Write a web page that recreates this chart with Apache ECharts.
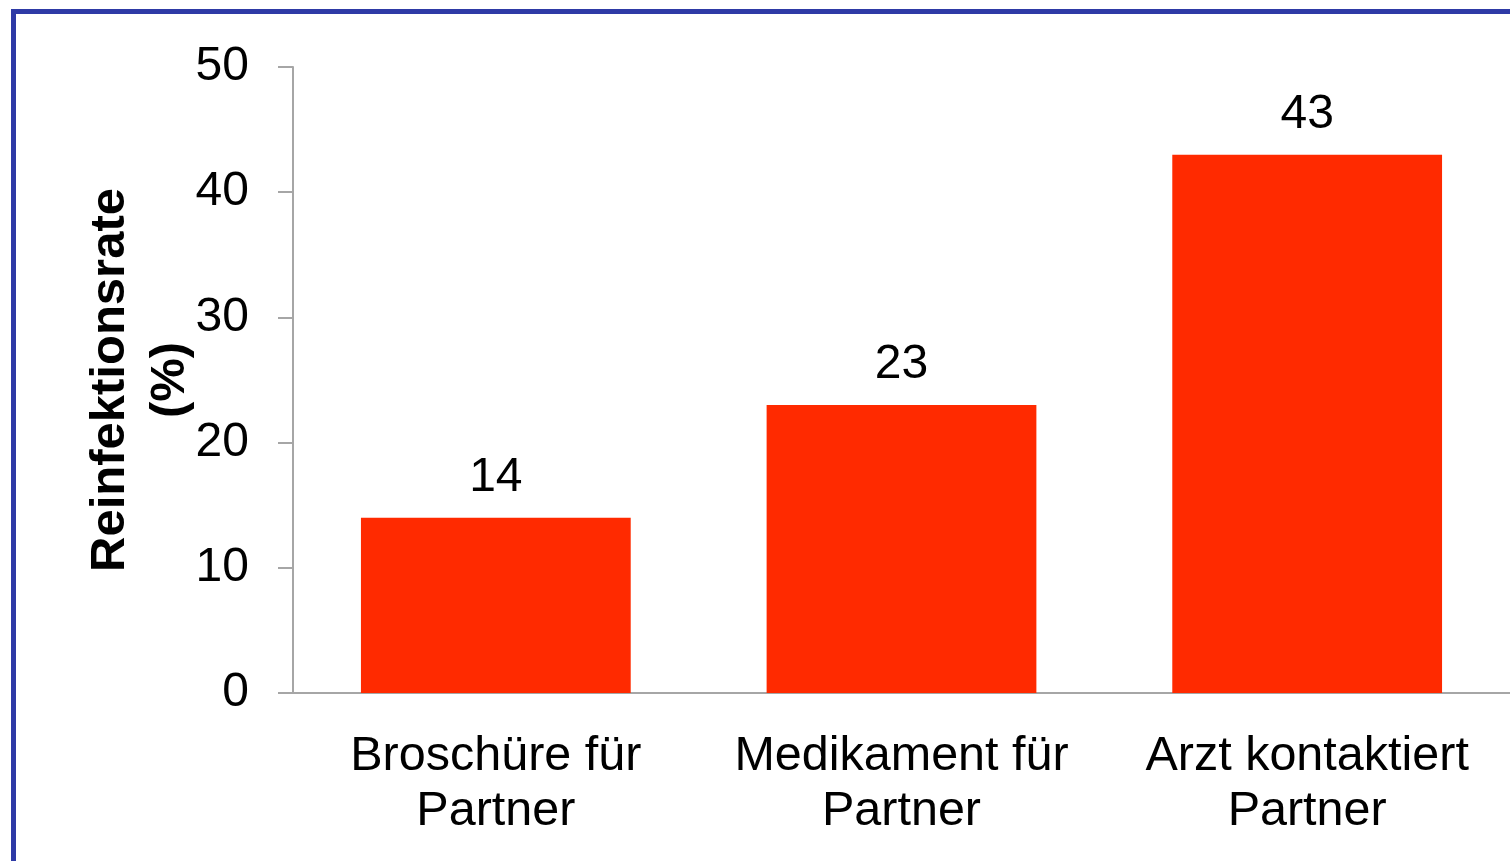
<!DOCTYPE html>
<html>
<head>
<meta charset="utf-8">
<script src="https://cdn.jsdelivr.net/npm/echarts@6/dist/echarts.min.js"></script>
<style>
html,body{margin:0;padding:0;background:#fff;overflow:hidden;}
#chart{position:absolute;left:0;top:0;width:1510px;height:861px;}
#frame{position:absolute;left:11px;top:9px;width:1600px;height:1000px;border-top:5px solid #2E3AA6;border-left:5px solid #2E3AA6;pointer-events:none;}
</style>
</head>
<body>
<div id="chart"></div>
<div id="frame"></div>
<script>
const categories = ['Broschüre für\nPartner', 'Medikament für\nPartner', 'Arzt kontaktiert\nPartner'];
const values = [14, 23, 43];
const yAxisTitle = 'Reinfektionsrate\n(%)';
const yMin = 0, yMax = 50, yStep = 10;

const FONT = '"Liberation Sans", Arial, sans-serif';
const chart = echarts.init(document.getElementById('chart'), null, {renderer: 'canvas'});
chart.setOption({
  animation: false,
  backgroundColor: 'transparent',
  grid: {left: 293, right: 0, top: 67, bottom: 168, containLabel: false},
  xAxis: {
    type: 'category',
    data: categories,
    axisLine: {show: true, lineStyle: {color: '#A6A6A6', width: 2}},
    axisTick: {show: false},
    axisLabel: {color: '#000', fontFamily: FONT, fontSize: 48.5, lineHeight: 55, margin: 36, interval: 0}
  },
  yAxis: {
    type: 'value',
    min: yMin, max: yMax, interval: yStep,
    name: yAxisTitle,
    nameLocation: 'middle',
    nameRotate: 90,
    nameGap: 93,
    nameMoveOverlap: false,
    nameTextStyle: {color: '#000', fontFamily: FONT, fontSize: 49, fontWeight: 'bold', lineHeight: 60},
    axisLine: {show: true, lineStyle: {color: '#A6A6A6', width: 2}},
    axisTick: {show: true, length: 15, lineStyle: {color: '#A6A6A6', width: 2}},
    splitLine: {show: false},
    axisLabel: {color: '#000', fontFamily: FONT, fontSize: 48, margin: 44}
  },
  series: [{
    type: 'bar',
    data: values,
    barWidth: '66.5%',
    itemStyle: {color: '#FF2A00'},
    label: {show: true, position: 'top', distance: 16, color: '#000', fontFamily: FONT, fontSize: 48}
  }]
});
</script>
</body>
</html>
